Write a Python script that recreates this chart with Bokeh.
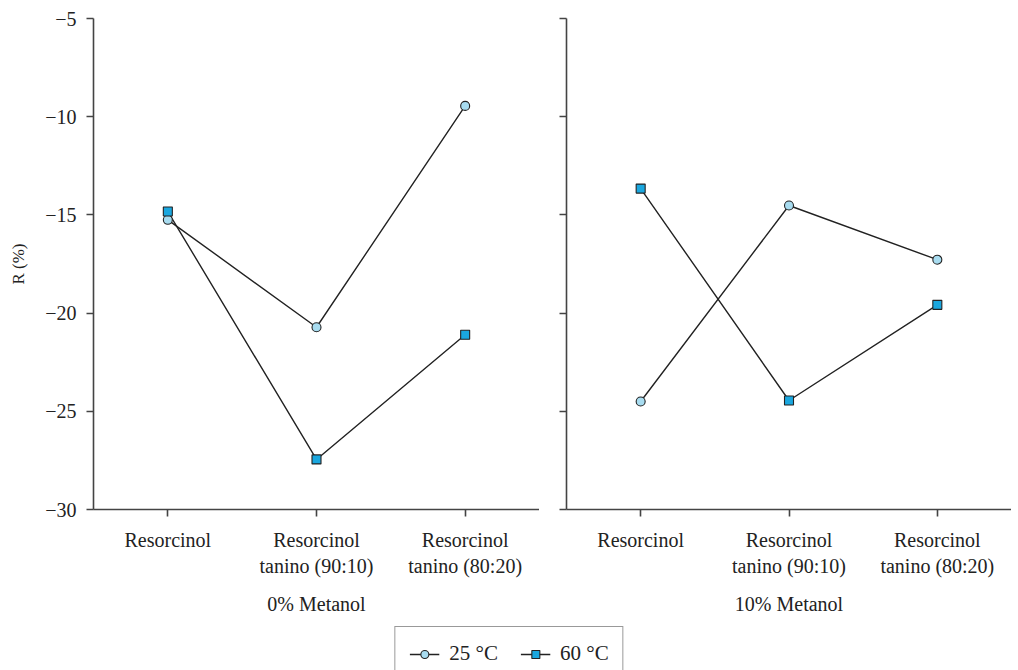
from bokeh.plotting import figure
from bokeh.models import Range1d, FixedTicker, Legend, LegendItem
from bokeh.layouts import row, column
from bokeh.embed import file_html
from bokeh.resources import INLINE

categories = ["Resorcinol", "Resorcinol\ntanino (90:10)", "Resorcinol\ntanino (80:20)"]
x_pos = [0.5, 1.5, 2.5]
groups = ["0% Metanol", "10% Metanol"]
series_names = ["25 °C", "60 °C"]
# panel 0% Metanol
m0_25 = [-15.25, -20.72, -9.45]
m0_60 = [-14.83, -27.45, -21.1]
# panel 10% Metanol
m10_25 = [-24.5, -14.52, -17.28]
m10_60 = [-13.66, -24.45, -19.58]
y_ticks = [-30, -25, -20, -15, -10, -5]
y_tick_labels = {v: str(v).replace("-", "\u2212") for v in y_ticks}

FONT = "Liberation Serif"
FS = "20px"
LINE = "#222222"
AXC = "#444444"
C25 = "#a8dcf0"
C60 = "#1aa7df"


def make_panel(label, s25, s60, left, width, show_labels):
    p = figure(width=width, height=624, x_range=Range1d(0, 3), y_range=Range1d(-30, -5),
               output_backend="svg", toolbar_location=None,
               min_border_left=left, min_border_right=0, min_border_top=18,
               min_border_bottom=115)
    p.grid.visible = False
    p.outline_line_color = None
    for ax in (p.xaxis[0], p.yaxis[0]):
        ax.axis_line_color = AXC
        ax.axis_line_width = 1.6
        ax.major_tick_line_color = AXC
        ax.major_tick_line_width = 1.6
        ax.major_tick_out = 7
        ax.major_tick_in = 0
        ax.minor_tick_line_color = None
        ax.major_label_text_font = FONT
        ax.major_label_text_font_size = FS
        ax.major_label_text_color = "#222222"
        ax.axis_label_text_font = FONT
        ax.axis_label_text_font_size = FS
        ax.axis_label_text_font_style = "normal"
        ax.axis_label_text_color = "#222222"
    p.xaxis.ticker = FixedTicker(ticks=x_pos)
    p.xaxis.major_label_overrides = {x: c for x, c in zip(x_pos, categories)}
    p.xaxis.major_label_standoff = 12
    p.xaxis.axis_label = label
    p.xaxis.axis_label_standoff = 13
    p.yaxis.ticker = FixedTicker(ticks=y_ticks)
    p.yaxis.major_label_standoff = 10
    if show_labels:
        p.yaxis.major_label_overrides = y_tick_labels
        p.yaxis.axis_label = "R (%)"
        p.yaxis.axis_label_standoff = 14
        p.yaxis.axis_label_text_font_size = "17px"
    else:
        p.yaxis.major_label_overrides = {v: "" for v in y_ticks}
    p.line(x_pos, s25, line_color=LINE, line_width=1.4)
    p.line(x_pos, s60, line_color=LINE, line_width=1.4)
    p.scatter(x_pos, s25, marker="circle", size=9, fill_color=C25,
              line_color="#222222", line_width=1.1)
    p.scatter(x_pos, s60, marker="square", size=9, fill_color=C60,
              line_color="#222222", line_width=1.1)
    return p


p1 = make_panel(groups[0], m0_25, m0_60, 93, 539, True)
p2 = make_panel(groups[1], m10_25, m10_60, 27, 472, False)

# legend strip: renderers hold the real series but lie outside the visible range
p3 = figure(width=1018, height=46, output_backend="svg", toolbar_location=None,
            x_range=Range1d(100, 101), y_range=Range1d(100, 101),
            min_border_left=0, min_border_right=0, min_border_top=0, min_border_bottom=0)
p3.axis.visible = False
p3.grid.visible = False
p3.outline_line_color = None
l25 = p3.line(x_pos, m0_25, line_color=LINE, line_width=1.4)
s25r = p3.scatter(x_pos, m0_25, marker="circle", size=12, fill_color=C25,
                  line_color="#222222", line_width=1.1)
l60 = p3.line(x_pos, m0_60, line_color=LINE, line_width=1.4)
s60r = p3.scatter(x_pos, m0_60, marker="square", size=12, fill_color=C60,
                  line_color="#222222", line_width=1.1)
legend = Legend(items=[LegendItem(label=series_names[0], renderers=[l25, s25r]),
                       LegendItem(label=series_names[1], renderers=[l60, s60r])],
                location="top", orientation="horizontal")
legend.margin = 2
legend.padding = 14
legend.spacing = 22
legend.glyph_width = 30
legend.label_standoff = 10
legend.label_text_font = FONT
legend.label_text_font_size = "21px"
legend.label_text_color = "#222222"
legend.border_line_color = "#333333"
legend.border_line_width = 1.2
legend.background_fill_alpha = 1
p3.add_layout(legend, "center")

layout = column(row(p1, p2), p3)
open("out.html", "w").write(file_html(layout, INLINE))
